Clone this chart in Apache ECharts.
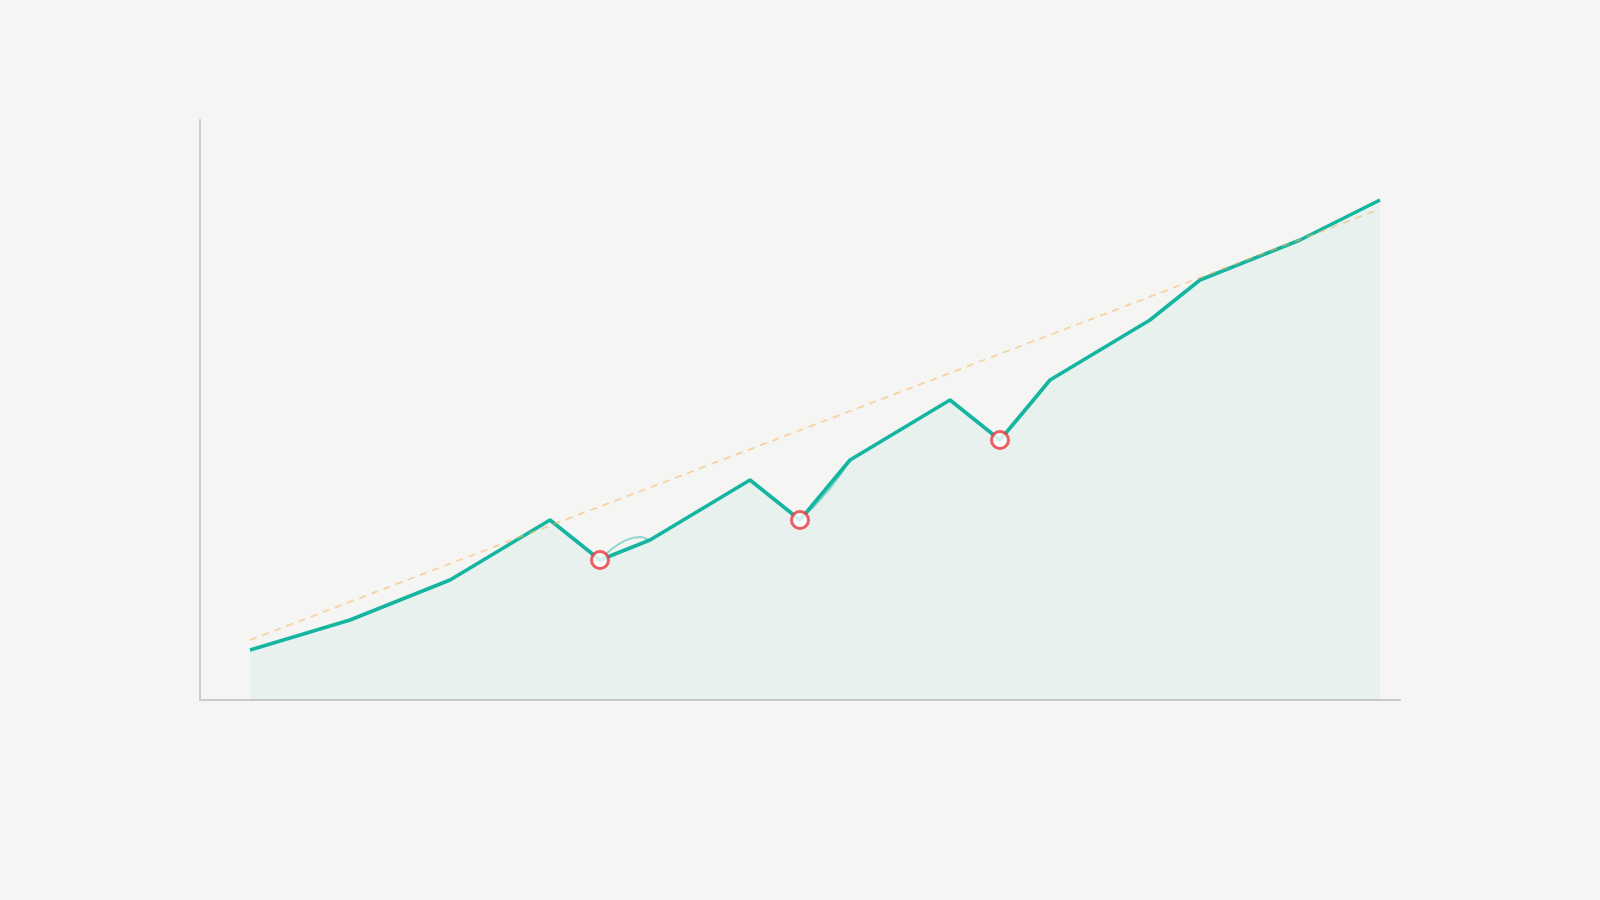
<!DOCTYPE html>
<html>
<head>
<meta charset="utf-8">
<script src="https://cdn.jsdelivr.net/npm/echarts@6/dist/echarts.min.js"></script>
<style>
html,body{margin:0;padding:0;background:#f5f5f3;}
#chart{width:1600px;height:900px;}
</style>
</head>
<body>
<div id="chart"></div>
<script>
// Data
const xValues = [0.5, 1.5, 2.5, 3.5, 4, 4.5, 5.5, 6, 6.5, 7.5, 8, 8.5, 9.5, 10, 11, 11.8];
const yValues = [5, 8, 12, 18, 14, 16, 22, 18, 24, 30, 26, 32, 38, 42, 46, 50];
const anomalyIndex = [4, 7, 10];
const trendX = [0.5, 11.8];
const trendY = [6, 49.1];
// faint secondary (smoothed) segments after anomalies
const ghost1X = [4, 4.4, 4.5];
const ghost1Y = [14, 16.3, 15.9];
const ghost2X = [6, 6.3, 6.5];
const ghost2Y = [18, 21.15, 24];
const ghost3X = [8, 8.35, 8.5];
const ghost3Y = [26, 30.05, 32];

const zip = (xs, ys) => xs.map((x, i) => [x, ys[i]]);
const mainData = zip(xValues, yValues);
const anomalyData = anomalyIndex.map(i => [xValues[i], yValues[i]]);

const teal = '#14b5a1';
const ghostStyle = { color: 'rgba(23,179,160,0.45)', width: 2 };

const chart = echarts.init(document.getElementById('chart'));
chart.setOption({
  backgroundColor: '#f5f5f3',
  animation: false,
  grid: { left: 200, right: 200, top: 120, bottom: 200 },
  xAxis: {
    type: 'value', min: 0, max: 12,
    axisLine: { show: true, lineStyle: { color: '#c9cbcd', width: 2 } },
    axisTick: { show: false }, axisLabel: { show: false }, splitLine: { show: false }
  },
  yAxis: {
    type: 'value', min: 0, max: 58,
    axisLine: { show: true, lineStyle: { color: '#c9cbcd', width: 2 } },
    axisTick: { show: false }, axisLabel: { show: false }, splitLine: { show: false }
  },
  series: [
    { type: 'line', data: zip(ghost1X, ghost1Y), smooth: true, showSymbol: false, lineStyle: ghostStyle, z: 1 },
    { type: 'line', data: zip(ghost2X, ghost2Y), smooth: true, showSymbol: false, lineStyle: ghostStyle, z: 1 },
    { type: 'line', data: zip(ghost3X, ghost3Y), smooth: true, showSymbol: false, lineStyle: ghostStyle, z: 1 },
    {
      type: 'line', data: mainData, showSymbol: false, z: 2,
      lineStyle: { color: teal, width: 3.6 },
      areaStyle: { color: 'rgba(23,179,160,0.07)', origin: 'start' }
    },
    {
      type: 'line', data: zip(trendX, trendY), showSymbol: false, z: 3,
      lineStyle: { color: 'rgba(245,180,90,0.55)', width: 1.8, type: [7, 6] }
    },
    {
      type: 'scatter', data: anomalyData, symbol: 'circle', symbolSize: 17, z: 4,
      itemStyle: { color: '#ffffff', borderColor: '#e8363c', borderWidth: 3 }
    }
  ]
});
</script>
</body>
</html>
